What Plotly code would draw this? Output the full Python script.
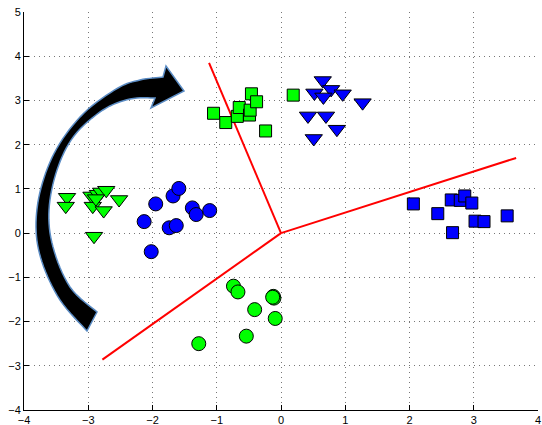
import plotly.graph_objects as go

# ---- data ----
green_tri_x = [-3.33, -3.35, -2.95, -2.93, -2.85, -2.80, -2.72, -2.76, -2.52, -2.91, -2.88]
green_tri_y = [0.81, 0.61, 0.84, 0.61, 0.88, 0.93, 0.97, 0.51, 0.76, -0.07, 0.78]

blue_circ_x = [-1.95, -2.13, -2.02, -1.68, -1.59, -1.74, -1.63, -1.38, -1.32, -1.11]
blue_circ_y = [0.66, 0.26, -0.42, 0.84, 1.01, 0.12, 0.17, 0.57, 0.42, 0.51]

green_sq_x = [-1.05, -0.86, -0.68, -0.65, -0.49, -0.48, -0.46, -0.38, -0.24, 0.19]
green_sq_y = [2.71, 2.50, 2.64, 2.84, 2.67, 2.78, 3.15, 2.97, 2.31, 3.12]

blue_tri_x = [0.65, 0.78, 0.52, 0.66, 0.96, 1.27, 0.42, 0.70, 0.87, 0.51]
blue_tri_y = [3.45, 3.25, 3.17, 3.08, 3.15, 2.95, 2.65, 2.65, 2.35, 2.14]

blue_sq_x = [2.06, 2.44, 2.65, 2.79, 2.86, 2.97, 2.67, 3.02, 3.16, 3.52]
blue_sq_y = [0.66, 0.44, 0.75, 0.74, 0.84, 0.68, 0.01, 0.27, 0.26, 0.39]

green_circ_x = [-0.74, -0.67, -0.12, -0.11, -0.13, -0.41, -0.09, -0.54, -1.28]
green_circ_y = [-1.20, -1.33, -1.43, -1.47, -1.45, -1.73, -1.93, -2.33, -2.50]

# decision boundaries (from origin)
boundary_ends_x = [-1.12, 3.66, -2.78]
boundary_ends_y = [3.85, 1.70, -2.86]

x_ticks = [-4, -3, -2, -1, 0, 1, 2, 3, 4]
y_ticks = [-4, -3, -2, -1, 0, 1, 2, 3, 4, 5]

BLUE = "#0000ff"
GREEN = "#00ff00"

fig = go.Figure()

# decorative curved arrow (pixel-space outline converted to data space)
def px2data(px, py):
    return -4 + (px - 24) / 514 * 8, 5 - (py - 12) / 398 * 9

def catmull(pts, n=8):
    out = []
    for i in range(len(pts) - 1):
        p0 = pts[i - 1] if i > 0 else pts[i]
        p1, p2 = pts[i], pts[i + 1]
        p3 = pts[i + 2] if i + 2 < len(pts) else pts[i + 1]
        for k in range(n):
            t = k / n
            t2, t3 = t * t, t * t * t
            x = 0.5 * (2 * p1[0] + (-p0[0] + p2[0]) * t + (2 * p0[0] - 5 * p1[0] + 4 * p2[0] - p3[0]) * t2 + (-p0[0] + 3 * p1[0] - 3 * p2[0] + p3[0]) * t3)
            y = 0.5 * (2 * p1[1] + (-p0[1] + p2[1]) * t + (2 * p0[1] - 5 * p1[1] + 4 * p2[1] - p3[1]) * t2 + (-p0[1] + 3 * p1[1] - 3 * p2[1] + p3[1]) * t3)
            out.append((x, y))
    out.append(pts[-1])
    return out

outer = [(87, 331), (60, 300), (42, 262), (36, 227), (41, 188), (57, 148), (84, 113), (118, 88), (140, 80), (163, 77)]
head = [(166, 66), (184, 91), (151, 108), (155, 98)]
inner = [(155, 98), (130, 99), (103, 110), (74, 136), (57, 170), (49, 210), (53, 247), (70, 287), (97, 312)]
outline = catmull(outer) + head + catmull(inner)[1:]
pts = [px2data(a, b) for a, b in outline]
path = "M " + " L ".join(f"{x:.4f},{y:.4f}" for x, y in pts) + " Z"
fig.add_shape(type="path", path=path, xref="x", yref="y",
              fillcolor="black", line=dict(color="#5b8cc4", width=1.5), layer="above")

# boundaries
for ex, ey in zip(boundary_ends_x, boundary_ends_y):
    fig.add_trace(go.Scatter(x=[0, ex], y=[0, ey], mode="lines",
                             line=dict(color="red", width=2), hoverinfo="skip"))

def mk(x, y, sym, color, size):
    fig.add_trace(go.Scatter(x=x, y=y, mode="markers",
                             marker=dict(symbol=sym, color=color, size=size,
                                         line=dict(color="black", width=1))))

mk(green_tri_x, green_tri_y, "triangle-down", GREEN, 15)
mk(blue_circ_x, blue_circ_y, "circle", BLUE, 14)
mk(green_sq_x, green_sq_y, "square", GREEN, 12)
mk(blue_tri_x, blue_tri_y, "triangle-down", BLUE, 15)
mk(blue_sq_x, blue_sq_y, "square", BLUE, 12)
mk(green_circ_x, green_circ_y, "circle", GREEN, 14)

axis_common = dict(showline=True, linecolor="black", linewidth=1,
                   ticks="inside", ticklen=5, tickcolor="black",
                   showgrid=True, gridcolor="#777777", griddash="1px,4px", gridwidth=1,
                   zeroline=False, mirror=False,
                   tickfont=dict(family="Liberation Sans, Arial, sans-serif", size=11, color="black"))

fig.update_layout(
    width=542, height=425,
    margin=dict(l=24, r=4, t=12, b=15, autoexpand=False),
    paper_bgcolor="white", plot_bgcolor="white",
    showlegend=False,
    xaxis=dict(range=[-4, 4], tickvals=x_ticks, **axis_common),
    yaxis=dict(range=[-4, 5], tickvals=y_ticks, **axis_common),
)

fig.write_html("out.html", config={"displayModeBar": False},
               post_script="document.body.style.margin='0';document.body.style.padding='0';")
